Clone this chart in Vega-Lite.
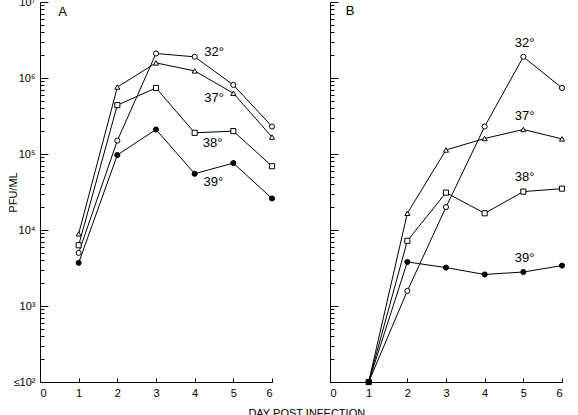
{
  "$schema": "https://vega.github.io/schema/vega-lite/v6.json",
  "padding": {"left": 7, "top": -4, "right": 0, "bottom": 0},
  "config": {
    "font": "Liberation Sans",
    "view": {"stroke": null},
    "axis": {"domainColor": "black", "tickColor": "black", "labelColor": "black", "titleColor": "black", "grid": false, "labelFontSize": 11, "titleFontSize": 11, "titleFontWeight": "normal", "labelOverlap": false, "tickWidth": 1, "domainWidth": 1}
  },
  "title": {"text": "DAY POST INFECTION", "orient": "bottom", "anchor": "middle", "fontSize": 11, "fontWeight": "normal", "offset": 10, "dx": 20},
  "datasets": {
    "pts": [
      {"panel": "A", "temp": "32°", "day": 1, "pfu": 5000},
      {"panel": "A", "temp": "32°", "day": 2, "pfu": 150000},
      {"panel": "A", "temp": "32°", "day": 3, "pfu": 2100000},
      {"panel": "A", "temp": "32°", "day": 4, "pfu": 1900000},
      {"panel": "A", "temp": "32°", "day": 5, "pfu": 810000},
      {"panel": "A", "temp": "32°", "day": 6, "pfu": 230000},
      {"panel": "A", "temp": "37°", "day": 1, "pfu": 8900},
      {"panel": "A", "temp": "37°", "day": 2, "pfu": 760000},
      {"panel": "A", "temp": "37°", "day": 3, "pfu": 1580000},
      {"panel": "A", "temp": "37°", "day": 4, "pfu": 1240000},
      {"panel": "A", "temp": "37°", "day": 5, "pfu": 630000},
      {"panel": "A", "temp": "37°", "day": 6, "pfu": 167000},
      {"panel": "A", "temp": "38°", "day": 1, "pfu": 6300},
      {"panel": "A", "temp": "38°", "day": 2, "pfu": 440000},
      {"panel": "A", "temp": "38°", "day": 3, "pfu": 740000},
      {"panel": "A", "temp": "38°", "day": 4, "pfu": 190000},
      {"panel": "A", "temp": "38°", "day": 5, "pfu": 200000},
      {"panel": "A", "temp": "38°", "day": 6, "pfu": 69000},
      {"panel": "A", "temp": "39°", "day": 1, "pfu": 3700},
      {"panel": "A", "temp": "39°", "day": 2, "pfu": 97000},
      {"panel": "A", "temp": "39°", "day": 3, "pfu": 210000},
      {"panel": "A", "temp": "39°", "day": 4, "pfu": 55000},
      {"panel": "A", "temp": "39°", "day": 5, "pfu": 76000},
      {"panel": "A", "temp": "39°", "day": 6, "pfu": 26000},
      {"panel": "B", "temp": "32°", "day": 1, "pfu": 100},
      {"panel": "B", "temp": "32°", "day": 2, "pfu": 1580},
      {"panel": "B", "temp": "32°", "day": 3, "pfu": 20000},
      {"panel": "B", "temp": "32°", "day": 4, "pfu": 230000},
      {"panel": "B", "temp": "32°", "day": 5, "pfu": 1900000},
      {"panel": "B", "temp": "32°", "day": 6, "pfu": 740000},
      {"panel": "B", "temp": "37°", "day": 1, "pfu": 100},
      {"panel": "B", "temp": "37°", "day": 2, "pfu": 16600},
      {"panel": "B", "temp": "37°", "day": 3, "pfu": 113000},
      {"panel": "B", "temp": "37°", "day": 4, "pfu": 160000},
      {"panel": "B", "temp": "37°", "day": 5, "pfu": 210000},
      {"panel": "B", "temp": "37°", "day": 6, "pfu": 158000},
      {"panel": "B", "temp": "38°", "day": 1, "pfu": 100},
      {"panel": "B", "temp": "38°", "day": 2, "pfu": 7200},
      {"panel": "B", "temp": "38°", "day": 3, "pfu": 31000},
      {"panel": "B", "temp": "38°", "day": 4, "pfu": 16600},
      {"panel": "B", "temp": "38°", "day": 5, "pfu": 32000},
      {"panel": "B", "temp": "38°", "day": 6, "pfu": 35000},
      {"panel": "B", "temp": "39°", "day": 1, "pfu": 100},
      {"panel": "B", "temp": "39°", "day": 2, "pfu": 3800},
      {"panel": "B", "temp": "39°", "day": 3, "pfu": 3200},
      {"panel": "B", "temp": "39°", "day": 4, "pfu": 2600},
      {"panel": "B", "temp": "39°", "day": 5, "pfu": 2800},
      {"panel": "B", "temp": "39°", "day": 6, "pfu": 3400}
    ],
    "labels": [
      {"panel": "A", "text": "A", "day": 0.47, "pfu": 7400000},
      {"panel": "A", "text": "32°", "day": 4.25, "pfu": 2200000},
      {"panel": "A", "text": "37°", "day": 4.25, "pfu": 550000},
      {"panel": "A", "text": "38°", "day": 4.21, "pfu": 138000},
      {"panel": "A", "text": "39°", "day": 4.23, "pfu": 43000},
      {"panel": "B", "text": "B", "day": 0.41, "pfu": 7500000},
      {"panel": "B", "text": "32°", "day": 4.78, "pfu": 2900000},
      {"panel": "B", "text": "37°", "day": 4.78, "pfu": 320000},
      {"panel": "B", "text": "38°", "day": 4.78, "pfu": 50000},
      {"panel": "B", "text": "39°", "day": 4.78, "pfu": 4300}
    ]
  },
  "hconcat": [
    {
      "width": 232,
      "height": 380,
      "resolve": {"axis": {"x": "independent", "y": "independent"}},
      "layer": [
        {
          "data": {"name": "pts"},
          "transform": [{"filter": "datum.panel == 'A'"}],
          "encoding": {
            "x": {"field": "day", "type": "quantitative", "scale": {"domain": [0, 6]}, "axis": {"orient": "bottom", "values": [0, 1, 2, 3, 4, 5, 6], "ticks": false, "labelPadding": 5, "title": null}},
            "y": {"field": "pfu", "type": "quantitative", "scale": {"type": "log", "domain": [100, 10000000]},
              "axis": {
                "orient": "left", "title": "PFU/ML", "titlePadding": 0, "minExtent": 22, "maxExtent": 22, "ticks": false, "labelPadding": 5,
                "values": [100, 1000, 10000, 100000, 1000000, 10000000],
                "labelExpr": "datum.value == 100 ? '≤10²' : datum.value == 1000 ? '10³' : datum.value == 10000 ? '10⁴' : datum.value == 100000 ? '10⁵' : datum.value == 1000000 ? '10⁶' : '10⁷'"
              }}
          },
          "layer": [
            {
              "mark": {"type": "line", "color": "black", "strokeWidth": 1},
              "encoding": {"detail": {"field": "temp"}, "order": {"field": "day"}}
            },
            {
              "mark": {"type": "point", "size": 26, "stroke": "black", "strokeWidth": 1, "opacity": 1},
              "encoding": {
                "shape": {"field": "temp", "scale": {"domain": ["32°", "37°", "38°", "39°"], "range": ["circle", "triangle-up", "square", "circle"]}, "legend": null},
                "fill": {"field": "temp", "scale": {"domain": ["32°", "37°", "38°", "39°"], "range": ["white", "white", "white", "black"]}, "legend": null}
              }
            }
          ]
        },
        {
          "data": {"name": "labels"},
          "transform": [{"filter": "datum.panel == 'A'"}],
          "mark": {"type": "text", "fontSize": 13, "color": "black", "align": "left", "baseline": "middle"},
          "encoding": {
            "x": {"field": "day", "type": "quantitative", "axis": {"orient": "top", "offset": -380, "values": [0, 1, 2, 3, 4, 5, 6], "tickSize": 4, "labels": false, "domain": false, "title": null}},
            "y": {"field": "pfu", "type": "quantitative",
              "axis": {
                "orient": "right", "offset": -232, "labels": false, "domain": false, "title": null,
                "values": [100,200,300,400,500,600,700,800,900,1000,2000,3000,4000,5000,6000,7000,8000,9000,10000,20000,30000,40000,50000,60000,70000,80000,90000,100000,200000,300000,400000,500000,600000,700000,800000,900000,1000000,2000000,3000000,4000000,5000000,6000000,7000000,8000000,9000000,10000000],
                "tickSize": {"condition": {"test": "indexof([100,1000,10000,100000,1000000,10000000], datum.value) >= 0", "value": 8}, "value": 4}
              }},
            "text": {"field": "text"}
          }
        }
      ]
    },
    {
      "width": 232,
      "height": 380,
      "resolve": {"axis": {"x": "independent", "y": "independent"}},
      "layer": [
        {
          "data": {"name": "pts"},
          "transform": [{"filter": "datum.panel == 'B'"}],
          "encoding": {
            "x": {"field": "day", "type": "quantitative", "scale": {"domain": [0, 6]}, "axis": {"orient": "bottom", "values": [0, 1, 2, 3, 4, 5, 6], "ticks": false, "labelPadding": 5, "title": null}},
            "y": {"field": "pfu", "type": "quantitative", "scale": {"type": "log", "domain": [100, 10000000]},
              "axis": {"orient": "left", "title": null, "minExtent": 0, "maxExtent": 0, "labels": false, "ticks": false}}
          },
          "layer": [
            {
              "mark": {"type": "line", "color": "black", "strokeWidth": 1},
              "encoding": {"detail": {"field": "temp"}, "order": {"field": "day"}}
            },
            {
              "mark": {"type": "point", "size": 26, "stroke": "black", "strokeWidth": 1, "opacity": 1},
              "encoding": {
                "shape": {"field": "temp", "scale": {"domain": ["32°", "37°", "38°", "39°"], "range": ["circle", "triangle-up", "square", "circle"]}, "legend": null},
                "fill": {"field": "temp", "scale": {"domain": ["32°", "37°", "38°", "39°"], "range": ["white", "white", "white", "black"]}, "legend": null}
              }
            }
          ]
        },
        {
          "data": {"name": "labels"},
          "transform": [{"filter": "datum.panel == 'B'"}],
          "mark": {"type": "text", "fontSize": 13, "color": "black", "align": "left", "baseline": "middle"},
          "encoding": {
            "x": {"field": "day", "type": "quantitative", "axis": {"orient": "top", "offset": -380, "values": [0, 1, 2, 3, 4, 5, 6], "tickSize": 4, "labels": false, "domain": false, "title": null}},
            "y": {"field": "pfu", "type": "quantitative",
              "axis": {
                "orient": "right", "offset": -232, "labels": false, "domain": false, "title": null,
                "values": [100,200,300,400,500,600,700,800,900,1000,2000,3000,4000,5000,6000,7000,8000,9000,10000,20000,30000,40000,50000,60000,70000,80000,90000,100000,200000,300000,400000,500000,600000,700000,800000,900000,1000000,2000000,3000000,4000000,5000000,6000000,7000000,8000000,9000000,10000000],
                "tickSize": {"condition": {"test": "indexof([100,1000,10000,100000,1000000,10000000], datum.value) >= 0", "value": 8}, "value": 4}
              }},
            "text": {"field": "text"}
          }
        }
      ]
    }
  ],
  "spacing": 52
}
